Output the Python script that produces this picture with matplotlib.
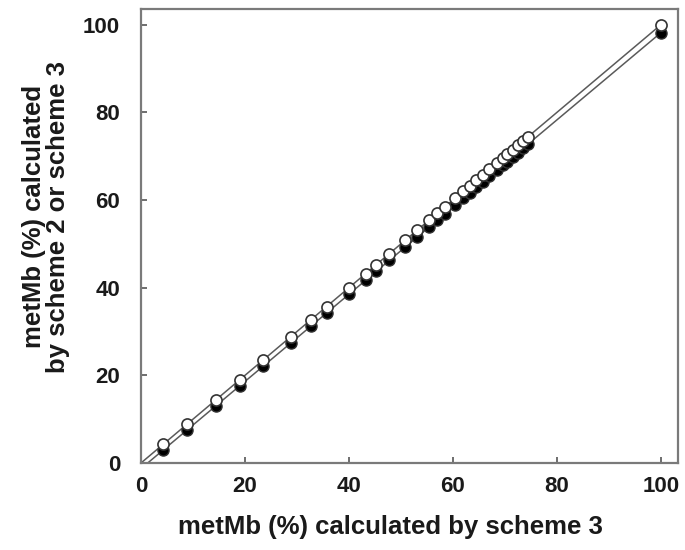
import numpy as np
import matplotlib
matplotlib.use("Agg")
import matplotlib.pyplot as plt

plt.rcParams['font.family'] = ['Liberation Sans', 'DejaVu Sans']

# metMb (%) from scheme 3 (x) and the matching values from scheme 2
scheme3 = [4.3, 8.9, 14.4, 19.0, 23.5, 28.8, 32.7, 35.7, 40.0, 43.2, 45.2,
           47.8, 50.8, 53.1, 55.4, 57.0, 58.5, 60.4, 62.0, 63.3, 64.5, 65.8,
           67.0, 68.5, 69.6, 70.5, 71.5, 72.5, 73.5, 74.5, 100.0]
scheme2 = [3.0, 7.6, 13.0, 17.6, 22.1, 27.4, 31.2, 34.2, 38.5, 41.7, 43.7,
           46.3, 49.2, 51.5, 53.8, 55.4, 56.9, 58.8, 60.4, 61.7, 62.9, 64.2,
           65.4, 66.9, 67.9, 68.8, 69.8, 70.8, 71.8, 72.8, 98.2]
xticks = [0, 20, 40, 60, 80, 100]
yticks = [0, 20, 40, 60, 80, 100]

fig = plt.figure(figsize=(6.85, 5.5), dpi=100)
ax = fig.add_axes([141/685, 1 - 463/550, (678 - 141)/685, (463 - 9)/550])

x3 = np.array(scheme3)
y3 = np.array(scheme3)
y2 = np.array(scheme2)

# linear trend lines for each series
for yy in (y3, y2):
    m, b = np.polyfit(x3, yy, 1)
    x0 = max(0.0, -b / m)
    xs = np.array([x0, 100.0])
    ax.plot(xs, m * xs + b, color='#5a5a5a', lw=1.1, zorder=2)

ax.plot(x3, y2, 'o', ms=8, mfc='black', mec='#333333', mew=1.0, zorder=3)
ax.plot(x3, y3, 'o', ms=8, mfc='white', mec='#333333', mew=1.2, zorder=4)

ax.set_xlim(0, 103.3)
ax.set_ylim(0, 103.6)
ax.set_xticks(xticks)
ax.set_yticks(yticks)
ax.tick_params(direction='in', length=4, width=1.2, color='#555555',
               labelsize=16, labelcolor='#1a1a1a')
ax.tick_params(axis='x', pad=9)
ax.tick_params(axis='y', pad=15)
for lab in ax.get_xticklabels() + ax.get_yticklabels():
    lab.set_fontweight('bold')
for s in ax.spines.values():
    s.set_color('#7a7a7a')
    s.set_linewidth(1.6)

ax.set_xlabel('metMb (%) calculated by scheme 3', fontsize=18.5,
              fontweight='bold', color='#1a1a1a', va='center')
ax.xaxis.set_label_coords(0.464, -0.141)
ax.set_ylabel('metMb (%) calculated\nby scheme 2 or scheme 3', fontsize=18.5,
              fontweight='bold', color='#1a1a1a', linespacing=1.0,
              va='center', ha='center')
ax.yaxis.set_label_coords(-0.177, 0.542)

fig.savefig('out.png', dpi=100)
